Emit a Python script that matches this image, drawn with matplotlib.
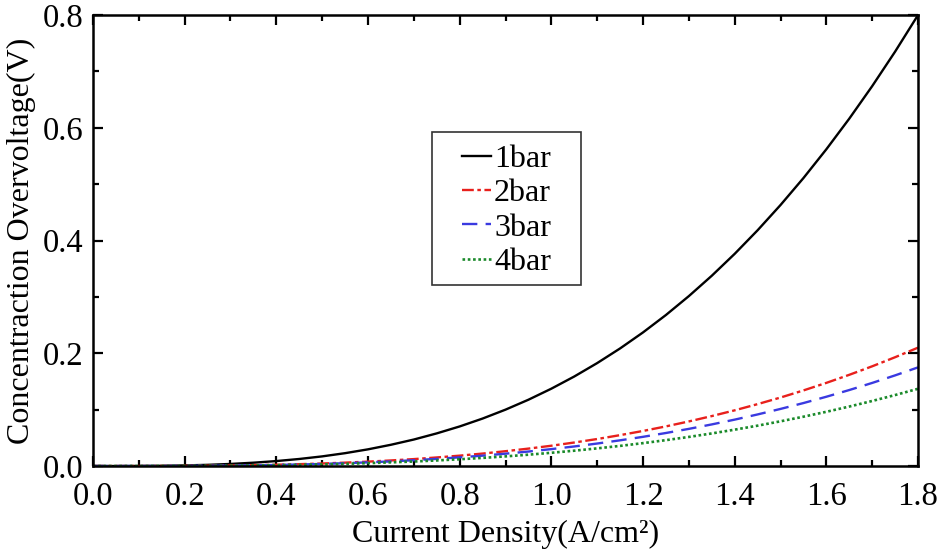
import matplotlib.pyplot as plt
from matplotlib.patches import Rectangle
from matplotlib.ticker import MultipleLocator

plt.rcParams['font.family'] = ['Liberation Serif', 'DejaVu Serif']

# current density (A/cm2) and concentration overvoltage (V)
current = [0.00, 0.05, 0.10, 0.15, 0.20, 0.25, 0.30, 0.35, 0.40, 0.45,
           0.50, 0.55, 0.60, 0.65, 0.70, 0.75, 0.80, 0.85, 0.90, 0.95,
           1.00, 1.05, 1.10, 1.15, 1.20, 1.25, 1.30, 1.35, 1.40, 1.45,
           1.50, 1.55, 1.60, 1.65, 1.70, 1.75, 1.80]
bar1 = [0.0, 0.00002, 0.00014, 0.00046, 0.0011, 0.0021, 0.0037, 0.0059, 0.0088, 0.0125,
        0.0171, 0.0228, 0.0296, 0.0377, 0.0470, 0.0579, 0.0702, 0.0842, 0.1000, 0.1176,
        0.1372, 0.1588, 0.1826, 0.2086, 0.2370, 0.2679, 0.3014, 0.3375, 0.3764, 0.4182,
        0.4630, 0.5108, 0.5619, 0.6162, 0.6739, 0.7351, 0.8000]
bar2 = [0.0, 0.000005, 0.00004, 0.00012, 0.0003, 0.00055, 0.00097, 0.00155, 0.0023, 0.0033,
        0.0045, 0.0060, 0.0078, 0.0099, 0.0123, 0.0152, 0.0184, 0.0221, 0.0263, 0.0309,
        0.0360, 0.0417, 0.0479, 0.0548, 0.0622, 0.0703, 0.0791, 0.0886, 0.0988, 0.1098,
        0.1215, 0.1341, 0.1475, 0.1618, 0.1769, 0.1930, 0.2100]
bar3 = [0.0, 0.000004, 0.00003, 0.0001, 0.00024, 0.00046, 0.00081, 0.0013, 0.0019, 0.0027,
        0.0037, 0.0050, 0.0065, 0.0082, 0.0103, 0.0127, 0.0154, 0.0184, 0.0219, 0.0257,
        0.0300, 0.0347, 0.0399, 0.0456, 0.0518, 0.0586, 0.0659, 0.0738, 0.0823, 0.0915,
        0.1013, 0.1117, 0.1229, 0.1348, 0.1474, 0.1608, 0.1750]
bar4 = [0.0, 0.000003, 0.00002, 0.00008, 0.00019, 0.00036, 0.00063, 0.0010, 0.0015, 0.0021,
        0.0029, 0.0039, 0.0051, 0.0065, 0.0080, 0.0099, 0.0120, 0.0144, 0.0171, 0.0201,
        0.0235, 0.0272, 0.0313, 0.0357, 0.0406, 0.0459, 0.0516, 0.0578, 0.0645, 0.0716,
        0.0793, 0.0875, 0.0962, 0.1055, 0.1154, 0.1259, 0.1370]
labels = ['1bar', '2bar', '3bar', '4bar']

fig = plt.figure(figsize=(9.41, 5.54), dpi=100)
ax = fig.add_axes([0.0988, 0.1588, 0.8768, 0.8141])

ax.plot(current, bar1, color='black', lw=1.7, ls='-', label=labels[0])
ax.plot(current, bar2, color='#e8201c', lw=1.7, ls=(0, (5, 1.5, 1.5, 1.5)), label=labels[1])
ax.plot(current, bar3, color='#3a3ae0', lw=1.7, ls=(0, (6.5, 3.5)), label=labels[2])
ax.plot(current, bar4, color='#1a8a2a', lw=1.9, ls=(0, (1, 1)), label=labels[3])

ax.set_xlim(0, 1.8)
ax.set_ylim(0, 0.8)
ax.xaxis.set_major_locator(MultipleLocator(0.2))
ax.xaxis.set_minor_locator(MultipleLocator(0.1))
ax.yaxis.set_major_locator(MultipleLocator(0.2))
ax.yaxis.set_minor_locator(MultipleLocator(0.1))
ax.xaxis.set_major_formatter(lambda v, p: '%.1f' % v)
ax.yaxis.set_major_formatter(lambda v, p: '%.1f' % v)
ax.tick_params(which='both', direction='in', top=True, right=True, width=1.6,
               labelsize=23.5)
ax.tick_params(axis='x', which='major', pad=11)
ax.tick_params(axis='y', which='major', pad=7)
ax.tick_params(which='major', length=7)
ax.tick_params(which='minor', length=4)
for s in ax.spines.values():
    s.set_linewidth(1.8)

ax.set_xlabel('Current Density(A/cm²)', fontsize=23, labelpad=6)
ax.set_ylabel('Concentraction Overvoltage(V)', fontsize=23, labelpad=5)

# legend box is wider than its entries, so the frame is drawn separately
ax.legend(loc='upper left', bbox_to_anchor=(0.428, 0.7473), borderaxespad=0,
          fontsize=23, handlelength=0.9, handletextpad=0.1, labelspacing=0.15,
          borderpad=0.5, frameon=False)
ax.add_patch(Rectangle((0.411, 0.4013), 0.1805, 0.3393, transform=ax.transAxes,
                       fill=False, edgecolor='#333333', lw=1.2, zorder=5))

fig.savefig('out.png', dpi=100)
